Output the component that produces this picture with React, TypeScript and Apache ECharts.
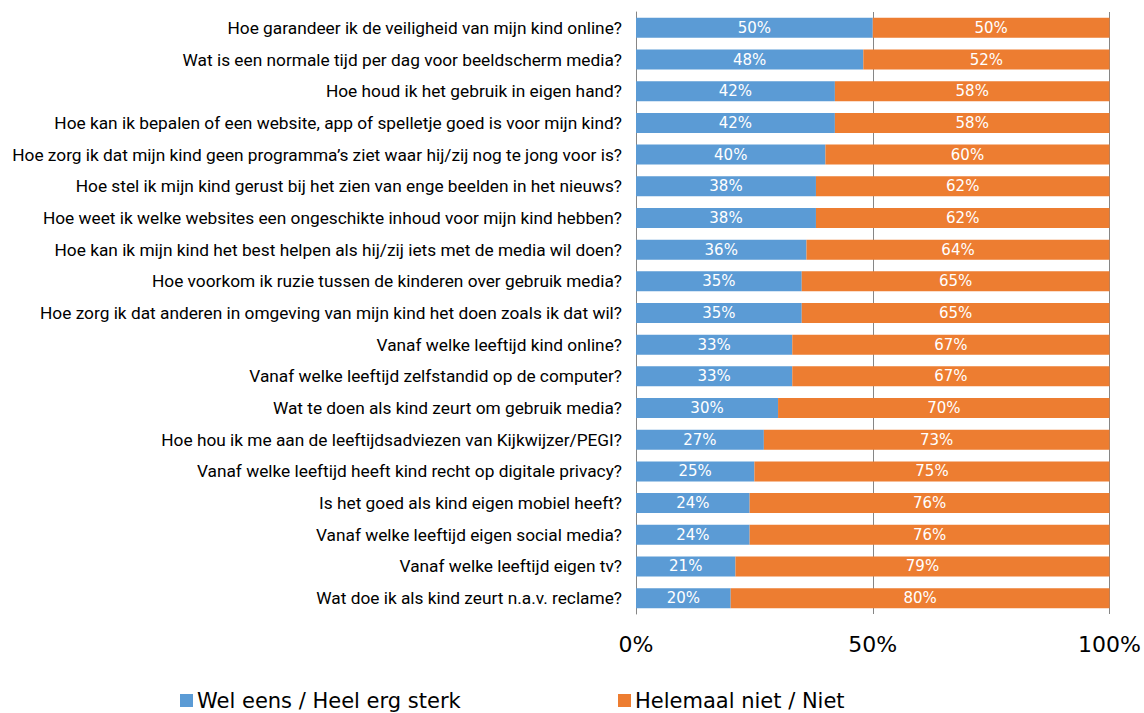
import React, { useEffect, useRef } from "react";
import * as echarts from "echarts";

const categories = [
  "Hoe garandeer ik de veiligheid van mijn kind online?",
  "Wat is een normale tijd per dag voor beeldscherm media?",
  "Hoe houd ik het gebruik in eigen hand?",
  "Hoe kan ik bepalen of een website, app of spelletje goed is voor mijn kind?",
  "Hoe zorg ik dat mijn kind geen programma’s ziet waar hij/zij nog te jong voor is?",
  "Hoe stel ik mijn kind gerust bij het zien van enge beelden in het nieuws?",
  "Hoe weet ik welke websites een ongeschikte inhoud voor mijn kind hebben?",
  "Hoe kan ik mijn kind het best helpen als hij/zij iets met de media wil doen?",
  "Hoe voorkom ik ruzie tussen de kinderen over gebruik media?",
  "Hoe zorg ik dat anderen in omgeving van mijn kind het doen zoals ik dat wil?",
  "Vanaf welke leeftijd kind online?",
  "Vanaf welke leeftijd zelfstandid op de computer?",
  "Wat te doen als kind zeurt om gebruik media?",
  "Hoe hou ik me aan de leeftijdsadviezen van Kijkwijzer/PEGI?",
  "Vanaf welke leeftijd heeft kind recht op digitale privacy?",
  "Is het goed als kind eigen mobiel heeft?",
  "Vanaf welke leeftijd eigen social media?",
  "Vanaf welke leeftijd eigen tv?",
  "Wat doe ik als kind zeurt n.a.v. reclame?",
];
const welEens = [50, 48, 42, 42, 40, 38, 38, 36, 35, 35, 33, 33, 30, 27, 25, 24, 24, 21, 20];
const helemaalNiet = [50, 52, 58, 58, 60, 62, 62, 64, 65, 65, 67, 67, 70, 73, 75, 76, 76, 79, 80];
const seriesNames = ["Wel eens / Heel erg sterk", "Helemaal niet / Niet"];
const tickValues = [0, 50, 100];

export default function App() {
  const ref = useRef<HTMLDivElement>(null);
  useEffect(() => {
    if (!ref.current) return;
    const chart = echarts.init(ref.current, undefined, { renderer: "svg" });
    const labelStyle = {
      show: true,
      position: "inside",
      color: "#ffffff",
      fontSize: 15,
      fontFamily: "DejaVu Sans",
      formatter: (p: any) => p.value + "%",
    };
    chart.setOption({
      animation: false,
      grid: { left: 636, right: 31, top: 12, bottom: 99, containLabel: false },
      xAxis: {
        type: "value",
        min: 0,
        max: 100,
        interval: 50,
        axisLine: { show: false },
        axisTick: { show: false },
        splitLine: { show: true, lineStyle: { color: "#868686", width: 1 } },
        axisLabel: {
          margin: 19,
          fontSize: 22,
          color: "#000",
          fontFamily: "DejaVu Sans",
          formatter: (v: number) => (tickValues.includes(v) ? v + "%" : ""),
        },
      },
      yAxis: {
        type: "category",
        data: categories,
        inverse: true,
        axisLine: { show: true, lineStyle: { color: "#868686" } },
        axisTick: { show: false },
        axisLabel: {
          fontSize: 17.3,
          color: "#000",
          margin: 14,
          fontFamily: "Roboto",
        },
      },
      legend: [
        {
          data: [seriesNames[0]],
          left: 175,
          top: 685,
          itemWidth: 13,
          itemHeight: 13,
          icon: "rect",
          itemGap: 5,
          textStyle: { fontSize: 21, color: "#000", fontFamily: "DejaVu Sans", padding: [0, 0, 0, -1] },
        },
        {
          data: [seriesNames[1]],
          left: 613,
          top: 685,
          itemWidth: 13,
          itemHeight: 13,
          icon: "rect",
          textStyle: { fontSize: 21, color: "#000", fontFamily: "DejaVu Sans", padding: [0, 0, 0, -1] },
        },
      ],
      series: [
        {
          name: seriesNames[0],
          type: "bar",
          stack: "total",
          data: welEens,
          barWidth: 20,
          itemStyle: { color: "#5B9BD5" },
          label: labelStyle,
        },
        {
          name: seriesNames[1],
          type: "bar",
          stack: "total",
          data: helemaalNiet,
          barWidth: 20,
          itemStyle: { color: "#ED7D31" },
          label: labelStyle,
        },
      ],
    });
    return () => chart.dispose();
  }, []);
  return (
    <div
      ref={ref}
      style={{ position: "absolute", left: 0, top: 0, width: 1144, height: 713 }}
    />
  );
}
